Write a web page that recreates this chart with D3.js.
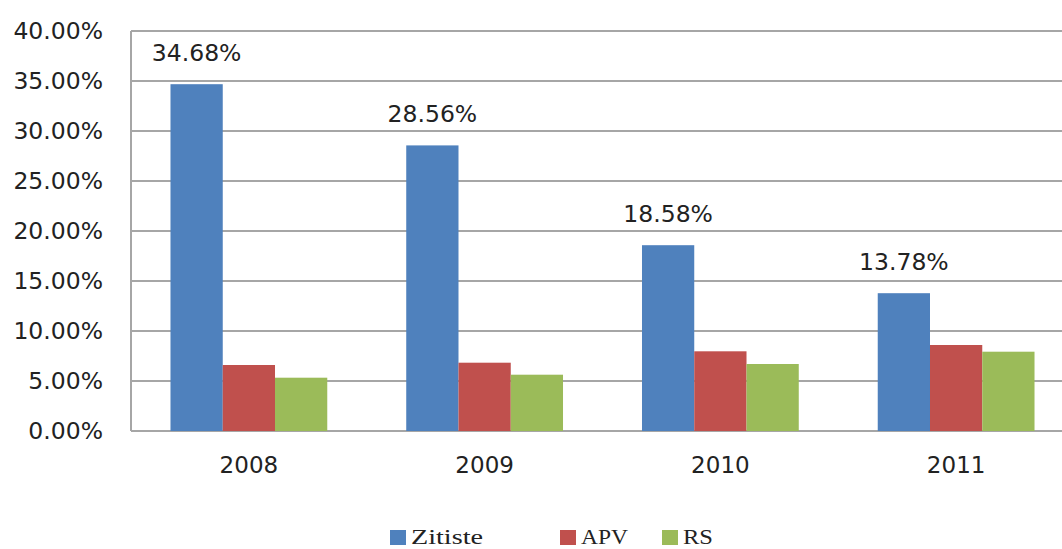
<!DOCTYPE html>
<html>
<head>
<meta charset="utf-8">
<script src="https://cdnjs.cloudflare.com/ajax/libs/d3/7.8.5/d3.min.js"></script>
<style>
  body { margin: 0; background: #fff; }
  svg { display: block; }
</style>
</head>
<body>
<div id="chart"></div>
<script>
var svgWidth = 1062;
var svgHeight = 549;

// data
var years = ["2008", "2009", "2010", "2011"];
var seriesNames = ["Zitiste", "APV", "RS"];
var zitiste = [34.68, 28.56, 18.58, 13.78];
var apv = [6.6, 6.83, 7.97, 8.6];
var rs = [5.33, 5.63, 6.7, 7.93];
var yTicks = [0, 5, 10, 15, 20, 25, 30, 35, 40];
var colors = ["#4F81BD", "#C0504D", "#9BBB59"];

var margin = { top: 31, left: 131 };
var width = 943;   // plot runs past the right edge, as in the picture
var height = 400;

var svg = d3.select("#chart")
  .append("svg")
  .attr("width", svgWidth)
  .attr("height", svgHeight);

var chartGroup = svg.append("g")
  .attr("transform", `translate(${margin.left}, ${margin.top})`);

var rows = years.map((y, i) => ({ year: y, values: [zitiste[i], apv[i], rs[i]] }));

var x0 = d3.scaleBand()
  .domain(years)
  .range([0, width])
  .paddingInner(0.335)
  .paddingOuter(0.1675);

var x1 = d3.scaleBand()
  .domain(seriesNames)
  .range([0, x0.bandwidth()]);

var yScale = d3.scaleLinear()
  .domain([0, 40])
  .range([height, 0]);

// gridlines
chartGroup.append("g")
  .selectAll("line")
  .data(yTicks)
  .enter()
  .append("line")
  .attr("x1", 0)
  .attr("x2", width)
  .attr("y1", d => yScale(d))
  .attr("y2", d => yScale(d))
  .attr("stroke", "#a6a6a6")
  .attr("stroke-width", 2);

// left border
chartGroup.append("line")
  .attr("x1", 0).attr("x2", 0)
  .attr("y1", 0).attr("y2", height)
  .attr("stroke", "#a6a6a6")
  .attr("stroke-width", 2);

// y axis labels
var leftAxis = d3.axisLeft(yScale)
  .tickValues(yTicks)
  .tickSize(0)
  .tickPadding(28)
  .tickFormat(d => d.toFixed(2) + "%");

var yAxis = chartGroup.append("g").call(leftAxis);
yAxis.select(".domain").remove();
yAxis.selectAll("text")
  .attr("font-family", "DejaVu Sans")
  .attr("font-size", "23.5px")
  .attr("fill", "#222");

// bars
var groups = chartGroup.selectAll(".year")
  .data(rows)
  .enter()
  .append("g")
  .attr("class", "year")
  .attr("transform", d => `translate(${x0(d.year)}, 0)`);

groups.selectAll("rect")
  .data(d => d.values.map((v, i) => ({ name: seriesNames[i], value: v, idx: i })))
  .enter()
  .append("rect")
  .attr("x", d => x1(d.name))
  .attr("y", d => yScale(d.value))
  .attr("width", x1.bandwidth())
  .attr("height", d => height - yScale(d.value))
  .attr("fill", d => colors[d.idx]);

// data labels on the Zitiste bars
groups.append("text")
  .attr("x", x1("Zitiste") + x1.bandwidth() / 2)
  .attr("y", d => yScale(d.values[0]) - 23)
  .attr("text-anchor", "middle")
  .attr("font-family", "DejaVu Sans")
  .attr("font-size", "23.5px")
  .attr("fill", "#222")
  .text(d => d.values[0].toFixed(2) + "%");

// x axis labels
var bottomAxis = d3.axisBottom(x0).tickSize(0).tickPadding(26);
var xAxis = chartGroup.append("g")
  .attr("transform", `translate(0, ${height})`)
  .call(bottomAxis);
xAxis.select(".domain").remove();
xAxis.selectAll("text")
  .attr("font-family", "DejaVu Sans")
  .attr("font-size", "23px")
  .attr("fill", "#222");

// legend
var legendX = [390, 560, 662];
var legendW = [72, 47, 30];
var legend = svg.append("g");
seriesNames.forEach((name, i) => {
  legend.append("rect")
    .attr("x", legendX[i])
    .attr("y", 530)
    .attr("width", 16)
    .attr("height", 15)
    .attr("fill", colors[i]);
  legend.append("text")
    .attr("x", legendX[i] + 21)
    .attr("y", 544)
    .attr("font-family", "'Liberation Serif', 'DejaVu Serif', serif")
    .attr("font-size", "21px")
    .attr("textLength", legendW[i])
    .attr("lengthAdjust", "spacingAndGlyphs")
    .attr("fill", "#222")
    .text(name);
});
</script>
</body>
</html>
